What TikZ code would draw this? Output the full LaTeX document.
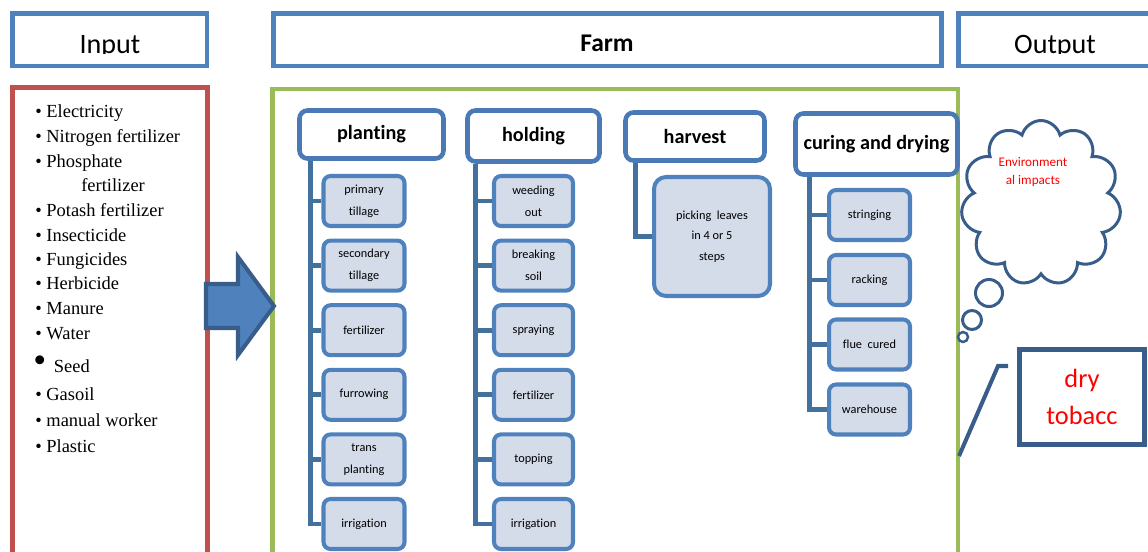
\documentclass[tikz,border=0pt]{standalone}
\usepackage{fontspec}
\setmainfont{Liberation Serif}
\newfontfamily\carlito[Ligatures=NoCommon]{Carlito}
\usetikzlibrary{shapes.symbols}
\definecolor{hdrblue}{HTML}{4F81BD}
\definecolor{stageblue}{HTML}{4A7AB5}
\definecolor{trunkblue}{HTML}{41719C}
\definecolor{taskfill}{HTML}{D4DCEA}
\definecolor{inred}{HTML}{C0504D}
\definecolor{farmgreen}{HTML}{9BBB59}
\definecolor{darkblue}{HTML}{385D8A}
\begin{document}
\begin{tikzpicture}[x=0.02cm,y=-0.02cm,
  topbox/.style={draw=hdrblue,line width=2.8pt,inner sep=0},
  headtxt/.style={font=\carlito\fontsize{16}{18}\selectfont,anchor=base,inner sep=0},
  stage/.style={draw=stageblue,fill=white,line width=2.6pt,rounded corners=0.16cm,font=\carlito\bfseries\fontsize{11.5}{13}\selectfont},
  task/.style={draw=hdrblue,fill=taskfill,line width=2.3pt,rounded corners=0.14cm,minimum width=1.62cm,minimum height=1cm,align=center,inner sep=0,font=\carlito\fontsize{7}{12.5}\selectfont},
  trunk/.style={draw=trunkblue,line width=2.8pt},
  item/.style={anchor=base west,inner sep=0,font=\fontsize{10.5}{12}\selectfont},
  bubble/.style={circle,draw=darkblue,fill=white,line width=1.7pt,inner sep=0}]
\useasboundingbox (0,0) rectangle (1148,551);
\clip (0,0) rectangle (1148,551);

% header row
\node[topbox,minimum width=3.89cm,minimum height=1.05cm] (input) at (109.75,39.75) {};
\node[topbox,minimum width=13.37cm,minimum height=1.05cm] (farm) at (607.75,39.75) {};
\node[topbox,minimum width=4.22cm,minimum height=1.05cm] (output) at (1064,39.75) {};
\begin{scope}
\clip (0,0) rectangle (1148,53);
\node[headtxt] (intxt) at (110,53) {Input};
\node[headtxt] (outtxt) at (1055,53) {Output};
\end{scope}
\node[headtxt,font=\carlito\bfseries\fontsize{14.5}{16}\selectfont] (farmtxt) at (607,51) {Farm};

% frames
\draw[inred,line width=2.8pt] (12.5,87.5) rectangle (207.5,580);
\draw[farmgreen,line width=2.8pt] (272.5,89) rectangle (958,580);

% inputs
\node[item] (i1) at (35,117) {• Electricity};
\node[item] (i2) at (35,142) {• Nitrogen fertilizer};
\node[item] (i3) at (35,167) {• Phosphate};
\node[item] (i3b) at (81,191) {fertilizer};
\node[item] (i4) at (35,216) {• Potash fertilizer};
\node[item] (i5) at (35,241) {• Insecticide};
\node[item] (i6) at (35,265) {• Fungicides};
\node[item] (i7) at (35,289) {• Herbicide};
\node[item] (i8) at (35,314) {• Manure};
\node[item] (i9) at (35,339) {• Water};
\node[item] (i10) at (33,372) {{\fontsize{21}{21}\selectfont•}\,\ Seed};
\node[item] (i11) at (35,400) {• Gasoil};
\node[item] (i12) at (35,426) {• manual worker};
\node[item] (i13) at (35,452) {• Plastic};

% stages
\node[stage,minimum width=2.88cm,minimum height=0.96cm] (plant) at (371.5,134.5) {planting};
\node[stage,minimum width=2.64cm,minimum height=1.02cm] (hold) at (533.5,136) {holding};
\node[stage,minimum width=2.78cm,minimum height=0.96cm] (harv) at (695,136.5) {harvest};
\node[stage,minimum width=3.24cm,minimum height=1.22cm] (cure) at (876.5,144) {curing and drying};

% planting tasks
\node[task] (p1) at (364,201) {primary\\tillage};
\node[task] (p2) at (364,265.6) {secondary\\tillage};
\node[task] (p3) at (364,330.2) {fertilizer};
\node[task] (p4) at (364,394.8) {furrowing};
\node[task] (p5) at (364,459.4) {trans\\planting};
\node[task] (p6) at (364,524) {irrigation};
\coordinate (ptop) at ([xshift=0.27cm]plant.south west);
\draw[trunk] (ptop) |- (p6.west) (ptop |- p1.west) -- (p1.west) (ptop |- p2.west) -- (p2.west)
  (ptop |- p3.west) -- (p3.west) (ptop |- p4.west) -- (p4.west) (ptop |- p5.west) -- (p5.west);

% holding tasks
\node[task,minimum width=1.58cm] (h1) at (533.5,201) {weeding\\out};
\node[task,minimum width=1.58cm] (h2) at (533.5,265.6) {breaking\\soil};
\node[task,minimum width=1.58cm] (h3) at (533.5,330.2) {spraying};
\node[task,minimum width=1.58cm] (h4) at (533.5,394.8) {fertilizer};
\node[task,minimum width=1.58cm] (h5) at (533.5,459.4) {topping};
\node[task,minimum width=1.58cm] (h6) at (533.5,524) {irrigation};
\coordinate (htop) at ([xshift=0.21cm]hold.south west);
\draw[trunk] (htop) |- (h6.west) (htop |- h1.west) -- (h1.west) (htop |- h2.west) -- (h2.west)
  (htop |- h3.west) -- (h3.west) (htop |- h4.west) -- (h4.west) (htop |- h5.west) -- (h5.west);

% harvest
\node[task,minimum width=2.32cm,minimum height=2.38cm,rounded corners=0.24cm,font=\carlito\fontsize{7}{11.6}\selectfont] (pick) at (712,236.5) {picking~ leaves\\in 4 or 5\\steps};
\coordinate (vtop) at ([xshift=0.25cm]harv.south west);
\draw[trunk] (vtop) |- (pick.west);

% curing and drying
\node[task] (c1) at (869.5,215) {stringing};
\node[task] (c2) at (869.5,280) {racking};
\node[task] (c3) at (869.5,344.5) {flue~ cured};
\node[task] (c4) at (869.5,409.5) {warehouse};
\coordinate (ctop) at ([xshift=0.33cm]cure.south west);
\draw[trunk] (ctop) |- (c4.west) (ctop |- c1.west) -- (c1.west) (ctop |- c2.west) -- (c2.west)
  (ctop |- c3.west) -- (c3.west);

% outputs
\node[cloud,cloud puffs=11,draw=darkblue,fill=white,line width=1.7pt,minimum width=3.2cm,minimum height=3.3cm,inner sep=0] (env) at (1041,203) {};
\node[text=red,align=center,font=\carlito\fontsize{7.5}{10}\selectfont] (envtxt) at (1033,172) {Environment\\al impacts};
\node[bubble,minimum size=0.54cm] (b1) at (989,293) {};
\node[bubble,minimum size=0.38cm] (b2) at (972,320) {};
\node[bubble,minimum size=0.2cm,line width=1.4pt] (b3) at (963,337) {};
\node[draw=darkblue,line width=2.6pt,minimum width=2.5cm,minimum height=1.9cm,inner sep=0,text=red,align=center,font=\carlito\fontsize{15}{21}\selectfont] (dry) at (1082,397) {dry\\tobacc};
\coordinate (cl1) at (1008,366);
\coordinate (cl2) at (998,366);
\coordinate (cl3) at (959,456);
\draw[darkblue,line width=2.3pt] (cl1) -- (cl2) -- (cl3);

% input arrow
\draw[darkblue,fill=hdrblue,line width=2.3pt] (206,284) -- (238,284) -- (238,257) -- (274,306) -- (238,355) -- (238,328) -- (206,328) -- cycle;
\end{tikzpicture}
\end{document}
